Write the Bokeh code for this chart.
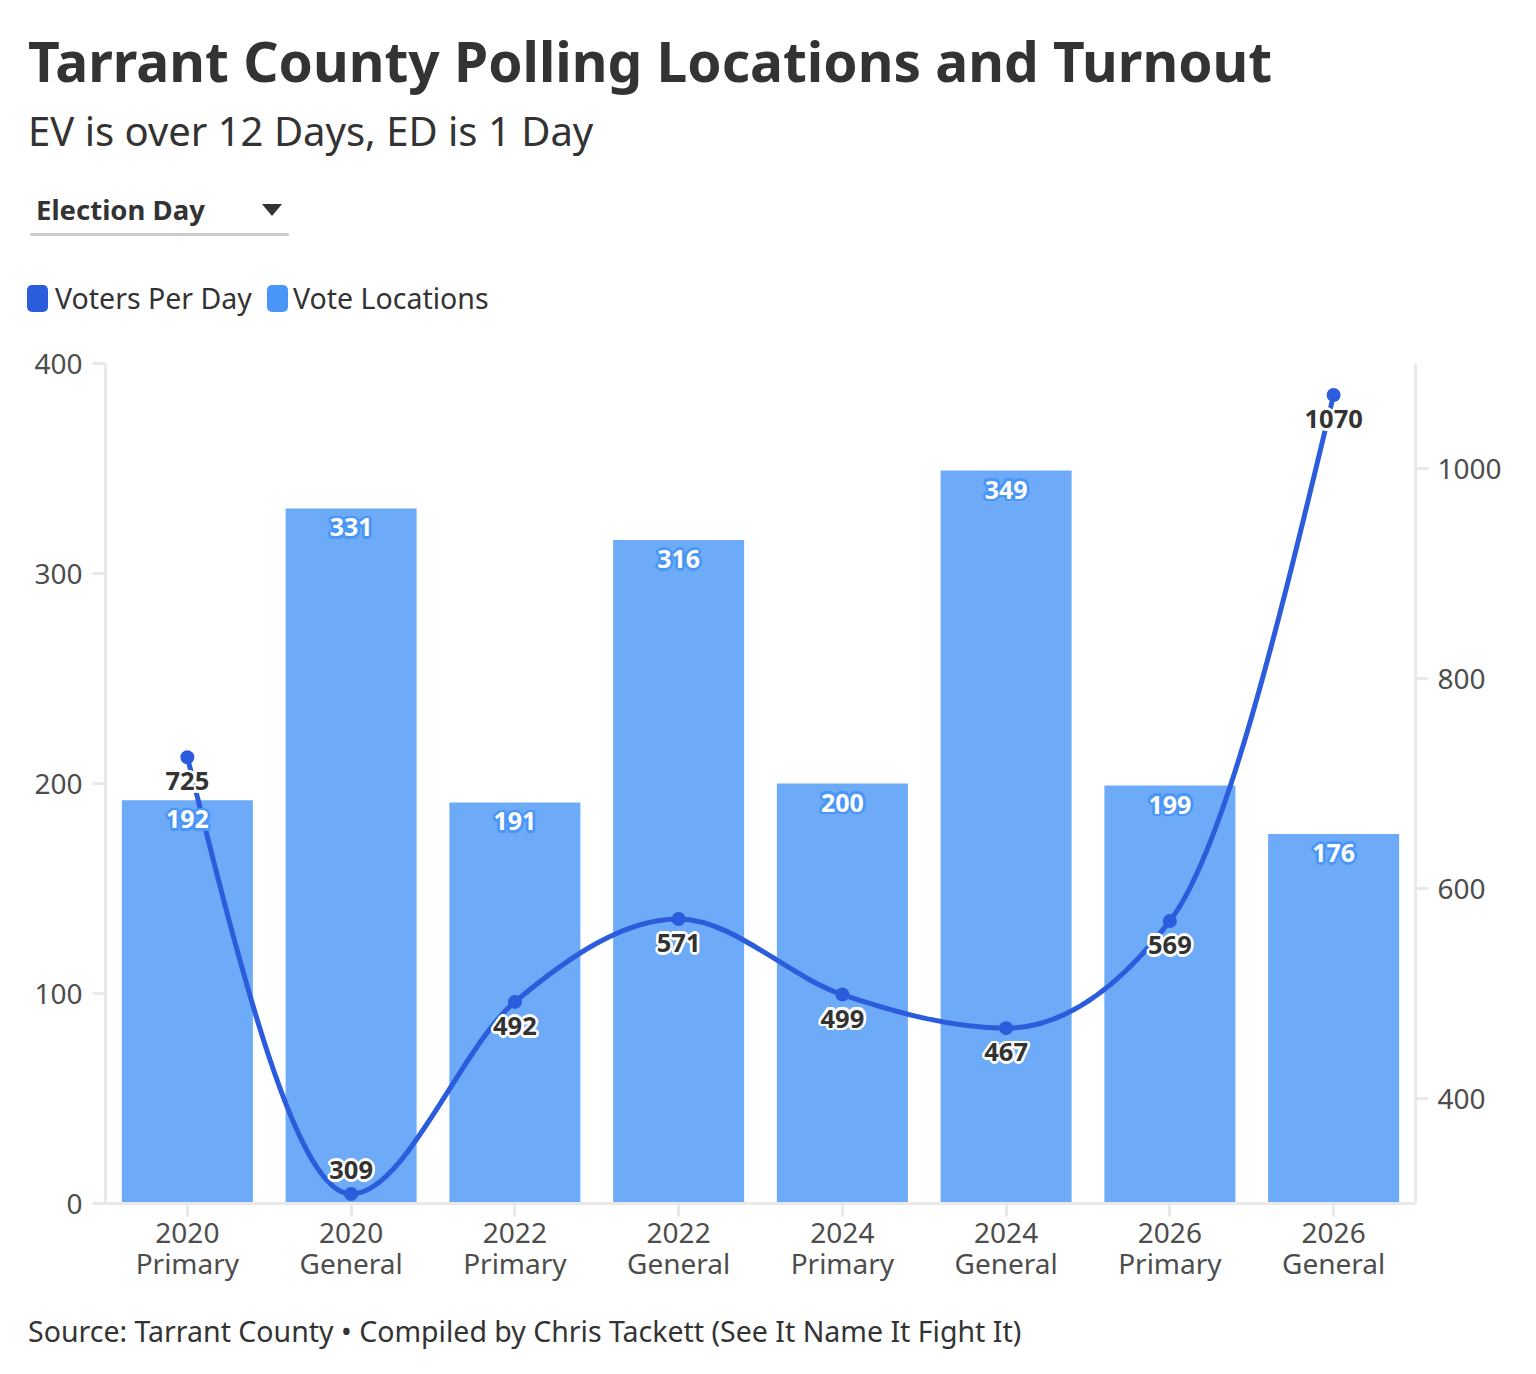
import math
from bokeh.plotting import figure
from bokeh.models import (Range1d, LinearAxis, FixedTicker, ColumnDataSource, Div)
from bokeh.layouts import column
from bokeh.core.properties import value
from bokeh.embed import file_html
from bokeh.resources import INLINE

# ---------------- data ----------------
categories = ["2020 Primary", "2020 General", "2022 Primary", "2022 General",
              "2024 Primary", "2024 General", "2026 Primary", "2026 General"]
tick_years = ["2020", "2020", "2022", "2022", "2024", "2024", "2026", "2026"]
tick_types = ["Primary", "General", "Primary", "General",
              "Primary", "General", "Primary", "General"]
vote_locations = [192, 331, 191, 316, 200, 349, 199, 176]
voters_per_day = [725, 309, 492, 571, 499, 467, 569, 1070]
left_ticks = [0, 100, 200, 300, 400]
right_ticks = [400, 600, 800, 1000]

title_text = "Tarrant County Polling Locations and Turnout"
subtitle_text = "EV is over 12 Days, ED is 1 Day"
dropdown_text = "Election Day"
legend_labels = ["Voters Per Day", "Vote Locations"]
source_text = "Source: Tarrant County \u2022 Compiled by Chris Tackett (See It Name It Fight It)"

# label placement styles (kept separate from data)
line_label_side = ["below", "above", "below", "below", "below", "below", "below", "below"]

FONT = "Noto Sans"
DARK = "#333333"
AXIS_TXT = "#4d4d4d"
LINE_C = "#2b5cdb"
BAR_C = "#4996f6"
GRID_C = "#e9e9e9"

W = 1520
HEADER_H = 340
FL, FR, FT, FB = 105, 1415, 363, 1203   # frame edges in page pixels
MAIN_BOTTOM = 95
MAIN_H = (FT - HEADER_H) + (FB - FT) + MAIN_BOTTOM
FOOT_TOP = HEADER_H + MAIN_H
FOOT_H = 60

def top_for_baseline(baseline, size):
    # line-height 1: baseline sits ~0.888em below the top of the line box for Noto Sans
    return baseline - 0.888 * size

def txt(left, baseline, size, text, bold=False):
    return (f'<div style="position:absolute;left:{left}px;top:{top_for_baseline(baseline, size):.1f}px;'
            f'font-size:{size}px;line-height:1;white-space:nowrap;'
            f'font-weight:{700 if bold else 400};">{text}</div>')

# ---------------- header ----------------
hdr_html = (
    f'<div style="position:relative;width:{W}px;height:{HEADER_H}px;'
    f'font-family:\'{FONT}\';color:{DARK};">'
    + txt(28, 82, 55, title_text, bold=True)
    + txt(28, 146, 40, subtitle_text)
    + txt(36, 220, 27.5, dropdown_text, bold=True)
    + '<div style="position:absolute;left:262px;top:204px;width:0;height:0;'
      'border-left:10px solid transparent;border-right:10px solid transparent;'
      f'border-top:12px solid {DARK};"></div>'
    + '<div style="position:absolute;left:30px;top:233px;width:259px;height:3px;'
      'background:#cccccc;border-radius:2px;"></div>'
    + f'<div style="position:absolute;left:27px;top:285px;width:21px;height:27px;'
      f'background:{LINE_C};border-radius:5px;"></div>'
    + f'<div style="position:absolute;left:267px;top:285px;width:21px;height:27px;'
      f'background:{BAR_C};border-radius:5px;"></div>'
    + txt(55, 309, 28.5, legend_labels[0])
    + txt(293, 309, 28.5, legend_labels[1])
    + '</div>'
)
hdr = Div(text=hdr_html, width=W, height=HEADER_H, margin=0)

# ---------------- main chart ----------------
n = len(categories)
xs = [i + 0.5 for i in range(n)]

p = figure(width=W, height=MAIN_H, x_range=Range1d(0, n), y_range=Range1d(0, 400),
           output_backend="svg", toolbar_location=None,
           min_border_left=FL, min_border_right=W - FR, min_border_top=FT - HEADER_H,
           min_border_bottom=MAIN_BOTTOM)
p.extra_y_ranges = {"right": Range1d(300, 1100)}
p.grid.visible = False
p.outline_line_color = None

def style_axis(ax):
    ax.axis_line_color = GRID_C
    ax.axis_line_width = 3
    ax.major_tick_line_color = GRID_C
    ax.major_tick_line_width = 3
    ax.major_tick_out = 13
    ax.major_tick_in = 0
    ax.minor_tick_line_color = None
    ax.major_label_text_font = FONT
    ax.major_label_text_font_size = "28px"
    ax.major_label_text_color = AXIS_TXT

p.yaxis.ticker = FixedTicker(ticks=left_ticks)
style_axis(p.yaxis[0])
p.yaxis[0].major_label_standoff = 10

ra = LinearAxis(y_range_name="right", ticker=FixedTicker(ticks=right_ticks))
style_axis(ra)
ra.major_label_standoff = 9
p.add_layout(ra, "right")

# bottom: year line (with ticks) and election-type line
p.xaxis.ticker = FixedTicker(ticks=xs)
p.xaxis.major_label_overrides = {x: lab for x, lab in zip(xs, tick_years)}
style_axis(p.xaxis[0])
p.xaxis[0].major_label_standoff = 6

xa2 = LinearAxis(ticker=FixedTicker(ticks=xs),
                 major_label_overrides={x: lab for x, lab in zip(xs, tick_types)})
style_axis(xa2)
xa2.axis_line_color = None
xa2.major_tick_line_color = None
xa2.major_tick_out = 0
xa2.major_label_standoff = -2
p.add_layout(xa2, "below")

# bars
bar_src = ColumnDataSource(dict(x=xs, top=vote_locations, cat=categories))
p.vbar(x="x", top="top", width=0.8, bottom=0, source=bar_src,
       fill_color=BAR_C, fill_alpha=0.8, line_color=None)

# monotone-x cubic (d3 curveMonotoneX) drawn as bezier segments
def sgn(v):
    return (v > 0) - (v < 0)

ys = voters_per_day
t = [0.0] * n
for i in range(1, n - 1):
    h0 = xs[i] - xs[i - 1]
    h1 = xs[i + 1] - xs[i]
    s0 = (ys[i] - ys[i - 1]) / h0
    s1 = (ys[i + 1] - ys[i]) / h1
    pp = (s0 * h1 + s1 * h0) / (h0 + h1)
    t[i] = (sgn(s0) + sgn(s1)) * min(abs(s0), abs(s1), 0.5 * abs(pp))
h = xs[1] - xs[0]
t[0] = (3 * (ys[1] - ys[0]) / h - t[1]) / 2
h = xs[-1] - xs[-2]
t[-1] = (3 * (ys[-1] - ys[-2]) / h - t[-2]) / 2

bz = dict(x0=[], y0=[], x1=[], y1=[], cx0=[], cy0=[], cx1=[], cy1=[])
for i in range(n - 1):
    dx = (xs[i + 1] - xs[i]) / 3
    bz["x0"].append(xs[i]); bz["y0"].append(ys[i])
    bz["x1"].append(xs[i + 1]); bz["y1"].append(ys[i + 1])
    bz["cx0"].append(xs[i] + dx); bz["cy0"].append(ys[i] + dx * t[i])
    bz["cx1"].append(xs[i + 1] - dx); bz["cy1"].append(ys[i + 1] - dx * t[i + 1])
p.bezier(source=ColumnDataSource(bz), x0="x0", y0="y0", x1="x1", y1="y1",
         cx0="cx0", cy0="cy0", cx1="cx1", cy1="cy1",
         line_color=LINE_C, line_width=5, y_range_name="right")
p.scatter(x=xs, y=ys, size=14, fill_color=LINE_C, line_color=None, y_range_name="right")

# value labels with halo
halo_dirs = [(math.cos(a * math.pi / 6) * 2.6, math.sin(a * math.pi / 6) * 2.6) for a in range(12)]

def halo_text(xv, yv, txtv, yoff, color, halo, size, rng=None):
    extra = {"y_range_name": rng} if rng else {}
    for dx, dy in halo_dirs:
        p.text(x=xv, y=yv, text=txtv, x_offset=dx, y_offset=[o + dy for o in yoff],
               text_font=value(FONT), text_font_size=size, text_font_style="bold",
               text_color=halo, text_align="center", text_baseline="middle", **extra)
    p.text(x=xv, y=yv, text=txtv, y_offset=yoff,
           text_font=value(FONT), text_font_size=size, text_font_style="bold",
           text_color=color, text_align="center", text_baseline="middle", **extra)

halo_text(xs, vote_locations, [str(v) for v in vote_locations], [19] * n, "white", BAR_C, "25px")
line_offsets = [24 if s == "below" else -24 for s in line_label_side]
halo_text(xs, voters_per_day, [str(v) for v in voters_per_day], line_offsets, DARK, "white",
          "25.5px", "right")

# ---------------- footer ----------------
ft_html = (f'<div style="position:relative;width:{W}px;height:{FOOT_H}px;'
           f'font-family:\'{FONT}\';color:{DARK};">'
           + txt(28, 1342 - FOOT_TOP, 28.5, source_text) + '</div>')
ft = Div(text=ft_html, width=W, height=FOOT_H, margin=0)

layout = column(hdr, p, ft, spacing=0)
open("out.html", "w").write(file_html(layout, INLINE))
